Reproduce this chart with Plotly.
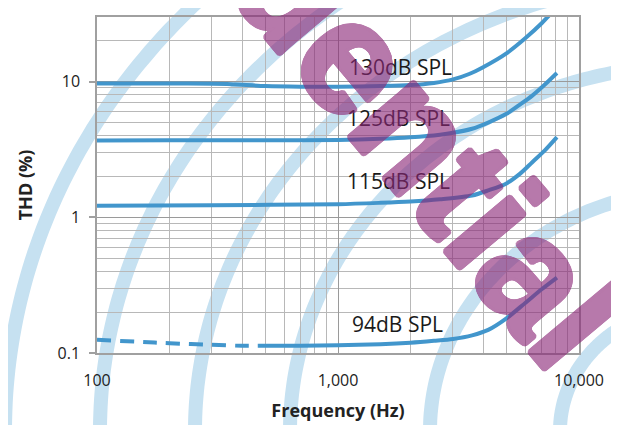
import numpy as np
import plotly.graph_objects as go

# ---------------- data ----------------
freq_130 = [100, 200, 300, 400, 500, 700, 1000, 1500, 2000, 2500, 3000, 3500, 4000, 5000, 6000, 7000, 7600]
thd_130 = [9.7, 9.7, 9.65, 9.5, 9.3, 9.2, 9.2, 9.3, 9.45, 9.8, 10.4, 11.4, 12.8, 16.2, 21.0, 27.0, 31.5]

freq_125 = [100, 200, 500, 1000, 1500, 2000, 2650, 3000, 3600, 4200, 5000, 5700, 6400, 7200, 8100]
thd_125 = [3.68, 3.7, 3.7, 3.72, 3.8, 3.9, 4.07, 4.2, 4.5, 5.0, 5.8, 6.8, 7.9, 9.5, 11.6]

freq_115 = [100, 300, 1000, 1500, 2000, 2650, 3600, 4200, 5000, 5700, 6400, 7200, 8100]
thd_115 = [1.22, 1.23, 1.25, 1.28, 1.31, 1.36, 1.45, 1.58, 1.78, 2.1, 2.55, 3.1, 3.9]

freq_94_dash = [100, 150, 200, 300, 400, 470]
thd_94_dash = [0.125, 0.121, 0.118, 0.115, 0.113, 0.113]
freq_94 = [470, 700, 1000, 1500, 2000, 2500, 3000, 3600, 4200, 5000, 6000, 7000, 8100]
thd_94 = [0.113, 0.113, 0.114, 0.116, 0.119, 0.123, 0.127, 0.135, 0.148, 0.18, 0.235, 0.295, 0.36]

label_text = ["130dB SPL", "125dB SPL", "115dB SPL", "94dB SPL"]
label_freq = [1090, 1070, 1070, 1120]
label_thd = [12.9, 5.43, 1.84, 0.163]

x_tickvals = [100, 1000, 10000]
x_ticktext = ["100", "1,000", "10,000"]
y_tickvals = [0.1, 1, 10]
y_ticktext = ["0.1", "1", "10"]

watermark_text = "Confidential"

# ---------------- style ----------------
W, H = 619, 425
OFF = 8  # page body margin of the browser
PL, PT, PR, PB = 97, 17, 579, 353      # plot area as seen on screen
PW, PH = PR - PL, PB - PT
ML, MT = PL - OFF, PT - OFF
MR, MB = W - ML - PW, H - MT - PH
BLUE = "#4296cc"
GRID = "#b8b8b8"
FONT = "Open Sans"
PURPLE = "rgb(140,40,120)"

fig = go.Figure()

line = dict(color=BLUE, width=4, shape="spline", smoothing=0.8)
for fx, fy in [(freq_130, thd_130), (freq_125, thd_125), (freq_115, thd_115), (freq_94, thd_94)]:
    fig.add_trace(go.Scatter(x=fx, y=fy, mode="lines", line=line, hoverinfo="skip"))
fig.add_trace(go.Scatter(x=freq_94_dash, y=thd_94_dash, mode="lines",
                         line=dict(color=BLUE, width=4, dash="14px,9px", shape="spline"),
                         hoverinfo="skip"))

# decorative background bands (screen pixel geometry -> paper coords)
def px2paper(px, py):
    return (px - PL) / PW, (PB - py) / PH

shapes = []
cx, cy, ratio = 700.0, 431.0, 0.894
for a in [695, 600, 505, 410, 270, 140]:
    b = a * ratio
    t = np.linspace(-0.05, np.pi / 2, 120)
    xs = cx - a * np.cos(t)
    ys = cy - b * np.sin(t)
    pts = [px2paper(x, y) for x, y in zip(xs, ys)]
    path = "M " + " L ".join(f"{u:.4f},{v:.4f}" for u, v in pts)
    shapes.append(dict(type="path", xref="paper", yref="paper", path=path,
                       line=dict(color="#c6e1f1", width=14), layer="below"))

annotations = []
for t_, f_, v_ in zip(label_text, label_freq, label_thd):
    annotations.append(dict(x=np.log10(f_), y=np.log10(v_), xref="x", yref="y", text=t_,
                            showarrow=False, xanchor="left", yanchor="middle",
                            font=dict(family=FONT, size=21, color="#1a1a1a")))

wx, wy = px2paper(300, -8)
ang = np.linspace(0, 2 * np.pi, 16, endpoint=False)
offs = [(round(3 * np.cos(q), 1), round(3 * np.sin(q), 1)) for q in ang] + \
       [(round(1.6 * np.cos(q), 1), round(1.6 * np.sin(q), 1)) for q in ang[::2]]
sh = ", ".join(f"{dx}px {dy}px 0 {PURPLE}" for dx, dy in offs)
annotations.append(dict(x=wx, y=wy, xref="paper", yref="paper", text=watermark_text,
                        showarrow=False, textangle=50, xanchor="center", yanchor="middle",
                        opacity=0.62,
                        font=dict(family="Liberation Sans", size=158, weight="bold",
                                  color=PURPLE, shadow=sh)))

axis_common = dict(type="log", showline=True, mirror=True, linecolor="#a0a0a0", linewidth=1.5,
                   showgrid=True, gridcolor="#9a9a9a", gridwidth=1.3, zeroline=False,
                   automargin=False,
                   tickfont=dict(family=FONT, size=16, color="#222"),
                   minor=dict(dtick="D1", showgrid=True, gridcolor=GRID, gridwidth=1, ticks=""))

fig.update_xaxes(**axis_common, range=[2, 4], tickvals=x_tickvals, ticktext=x_ticktext,
                 ticks="", ticklabelstandoff=12,
                 title=dict(text="<b>Frequency (Hz)</b>", standoff=14,
                            font=dict(family=FONT, size=18, color="#222")))
fig.update_yaxes(**axis_common, range=[-1, np.log10(30)], tickvals=y_tickvals, ticktext=y_ticktext,
                 ticks="outside", ticklen=6, tickcolor="#a0a0a0", tickwidth=1.5, ticklabelstandoff=6,
                 title=dict(text="<b>THD (%)</b>", standoff=20,
                            font=dict(family=FONT, size=18, color="#222")))

fig.update_layout(width=W, height=H, margin=dict(l=ML, r=MR, t=MT, b=MB),
                  paper_bgcolor="white", plot_bgcolor="rgba(0,0,0,0)",
                  showlegend=False, shapes=shapes, annotations=annotations)

fig.write_html("out.html")
